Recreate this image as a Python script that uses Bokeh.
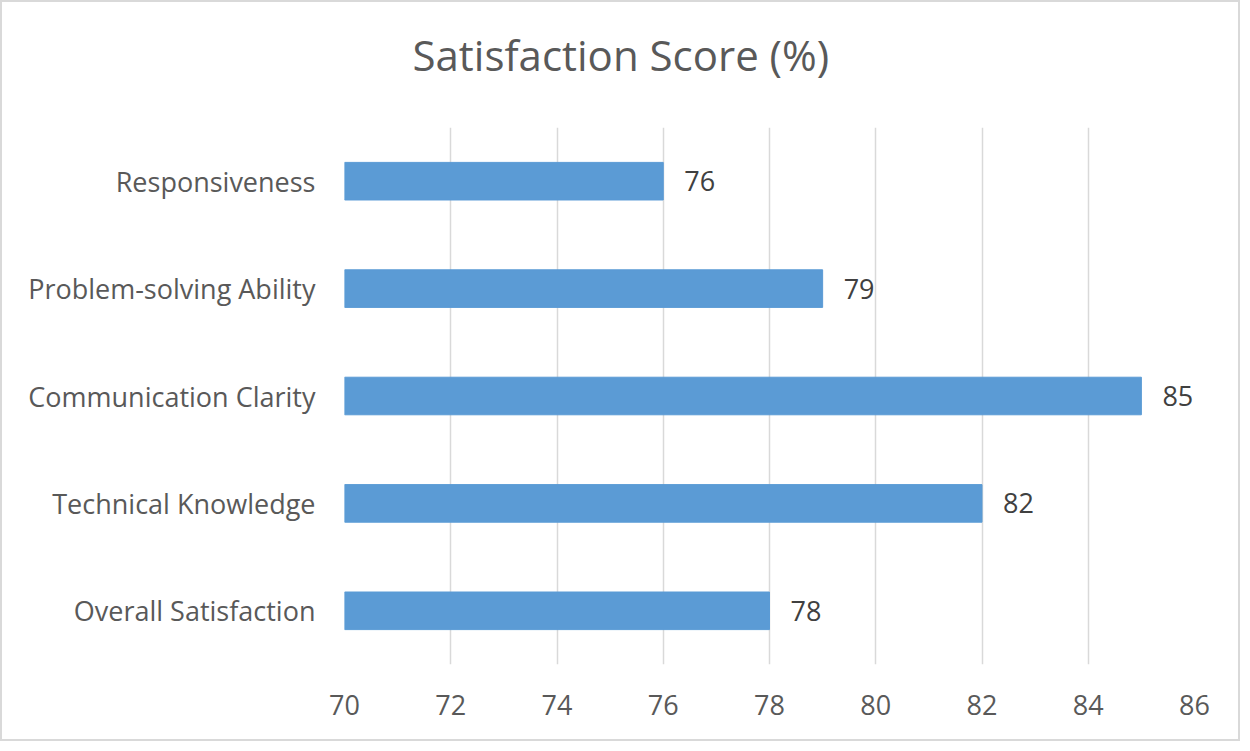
from bokeh.plotting import figure
from bokeh.models import ColumnDataSource, FixedTicker, Range1d, Title
from bokeh.core.properties import value
from bokeh.embed import file_html
from bokeh.resources import INLINE

categories = ["Overall Satisfaction", "Technical Knowledge", "Communication Clarity",
              "Problem-solving Ability", "Responsiveness"]
scores = [78, 82, 85, 79, 76]
score_labels = [str(s) for s in scores]
x_ticks = [70, 72, 74, 76, 78, 80, 82, 84, 86]
title_text = "Satisfaction Score (%)"

FONT = "Open Sans"

src = ColumnDataSource(dict(cat=categories, score=scores, lab=score_labels))

p = figure(y_range=categories, x_range=Range1d(70, 86), width=1240, height=741,
           output_backend="svg", toolbar_location=None,
           min_border_left=342, min_border_right=48, min_border_top=125, min_border_bottom=79)

p.hbar(y="cat", left=70, right="score", height=0.35, source=src,
       fill_color="#5B9BD5", line_color="#5B9BD5")
p.text(x="score", y="cat", text="lab", source=src, x_offset=21,
       text_baseline="middle", text_align="left", text_font=value(FONT),
       text_font_size="27px", text_color="#404040")

# spacer between frame and title, then the title itself
p.add_layout(Title(text=" ", text_font_size="1px", standoff=42), "above")
p.add_layout(Title(text=title_text, align="left", offset=68, standoff=0,
                   text_font=FONT, text_font_size="42px", text_font_style="normal",
                   text_color="#595959"), "above")

p.xaxis.ticker = FixedTicker(ticks=x_ticks)
for ax in (p.xaxis, p.yaxis):
    ax.axis_line_color = None
    ax.major_tick_line_color = None
    ax.minor_tick_line_color = None
    ax.major_label_text_font = FONT
    ax.major_label_text_font_size = "27px"
    ax.major_label_text_color = "#595959"
p.xaxis.major_label_standoff = 24
p.yaxis.major_label_standoff = 23

p.xgrid.grid_line_color = "#d9d9d9"
p.xgrid.grid_line_width = 1.5
p.ygrid.grid_line_color = None
p.outline_line_color = None
p.background_fill_color = "white"
p.border_fill_color = "white"
p.styles = {"border": "2px solid #d9d9d9", "box-sizing": "border-box"}

open("out.html", "w").write(file_html(p, INLINE))
